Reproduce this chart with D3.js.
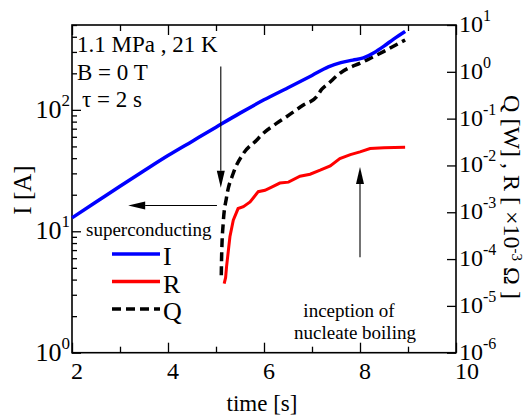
<!DOCTYPE html>
<html>
<head>
<meta charset="utf-8">
<script src="https://cdn.jsdelivr.net/npm/d3@7"></script>
<style>
  body { margin: 0; background: #fff; }
</style>
</head>
<body>
<div id="main-div"></div>
<script>
// data
const timeI = [2.0, 2.5, 3.0, 3.5, 4.0, 4.5, 5.0, 5.5, 6.0, 6.5, 7.0, 7.34, 7.6, 7.85, 8.07, 8.3, 8.5, 8.7, 8.94];
const currentI = [12.9, 17.4, 23.5, 31.5, 42, 55, 72, 94, 121, 152, 192, 226, 245, 257, 268, 297, 335, 383, 443];

const timeR = [5.17, 5.2, 5.22, 5.26, 5.29, 5.36, 5.46, 5.57, 5.71, 5.88, 6.02, 6.17, 6.33, 6.51, 6.75, 6.96, 7.17, 7.38, 7.58, 7.8, 8.0, 8.21, 8.5, 8.94];
const resistR = [3.0e-5, 4.0e-5, 6.9e-5, 1.6e-4, 3.0e-4, 6.8e-4, 1.2e-3, 1.32e-3, 1.66e-3, 2.75e-3, 2.95e-3, 3.5e-3, 4.2e-3, 4.4e-3, 5.9e-3, 6.5e-3, 7.9e-3, 9.8e-3, 1.4e-2, 1.7e-2, 1.95e-2, 2.3e-2, 2.4e-2, 2.45e-2];

const timeQ = [5.11, 5.115, 5.12, 5.15, 5.22, 5.36, 5.57, 5.85, 5.95, 6.26, 6.47, 6.82, 7.1, 7.2, 7.34, 7.58, 8.07, 8.49, 8.94];
const heatQ = [4.5e-5, 9e-5, 1.5e-4, 5.8e-4, 2.1e-3, 6.8e-3, 1.8e-2, 3.5e-2, 4.5e-2, 7.9e-2, 0.11, 0.195, 0.295, 0.42, 0.56, 0.93, 1.64, 2.7, 4.8];

const xTicks = [2, 4, 6, 8, 10];
const xMinor = [3, 5, 7, 9];
const leftTicks = [1, 10, 100];
const leftExp = ["0", "1", "2"];
const rightTicks = [1e-6, 1e-5, 1e-4, 1e-3, 1e-2, 1e-1, 1, 10];
const rightExp = ["-6", "-5", "-4", "-3", "-2", "-1", "0", "1"];

const width = 529, height = 418;
const margin = {left: 72, right: 456, top: 25, bottom: 352.7};
const serif = "'Liberation Serif', 'Times New Roman', Times, 'DejaVu Serif', serif";

const svg = d3.select("#main-div").append("svg")
  .attr("width", width).attr("height", height)
  .attr("font-family", serif)
  .style("font-family", serif);

const x = d3.scaleLinear().domain([2, 10]).range([margin.left, margin.right]);
const yL = d3.scaleLog().domain([1, 500]).range([margin.bottom, margin.top]);
const yR = d3.scaleLog().domain([1e-6, 10]).range([margin.bottom, margin.top]);

// minor log ticks for the left axis
let leftMinor = [];
for (let d = 1; d <= 100; d *= 10) {
  for (let k = 2; k <= 9; k++) {
    if (d * k <= 500) leftMinor.push(d * k);
  }
}

function plainAxis(g) {
  g.select(".domain").remove();
  g.selectAll("line").attr("stroke", "#000").attr("stroke-width", 1.3);
}

// ticks
svg.append("g").attr("transform", `translate(0,${margin.bottom})`)
  .call(d3.axisBottom(x).tickValues(xTicks).tickSize(-10).tickFormat(""))
  .call(plainAxis);
svg.append("g").attr("transform", `translate(0,${margin.bottom})`)
  .call(d3.axisBottom(x).tickValues(xMinor).tickSize(-6).tickFormat(""))
  .call(plainAxis);
svg.append("g").attr("transform", `translate(0,${margin.top})`)
  .call(d3.axisTop(x).tickValues(xTicks).tickSize(-10).tickFormat(""))
  .call(plainAxis);
svg.append("g").attr("transform", `translate(0,${margin.top})`)
  .call(d3.axisTop(x).tickValues(xMinor).tickSize(-6).tickFormat(""))
  .call(plainAxis);
svg.append("g").attr("transform", `translate(${margin.left},0)`)
  .call(d3.axisLeft(yL).tickValues(leftTicks).tickSize(-9).tickFormat(""))
  .call(plainAxis);
svg.append("g").attr("transform", `translate(${margin.left},0)`)
  .call(d3.axisLeft(yL).tickValues(leftMinor).tickSize(-5).tickFormat(""))
  .call(plainAxis);
svg.append("g").attr("transform", `translate(${margin.right},0)`)
  .call(d3.axisRight(yR).tickValues(rightTicks).tickSize(-9).tickFormat(""))
  .call(plainAxis);

// frame
svg.append("rect")
  .attr("x", margin.left).attr("y", margin.top)
  .attr("width", margin.right - margin.left).attr("height", margin.bottom - margin.top)
  .attr("fill", "none").attr("stroke", "#000").attr("stroke-width", 1.6);

// tick labels
svg.append("g").selectAll("text").data(xTicks).join("text")
  .attr("x", d => x(d) - 1).attr("y", 379)
  .attr("font-size", 24)
  .text(d => d);

let lt = svg.append("g").selectAll("text").data(leftTicks).join("text")
  .attr("x", margin.left - 2).attr("y", d => yL(d) + 8)
  .attr("text-anchor", "end").attr("font-size", 26);
lt.append("tspan").text("10");
lt.append("tspan").attr("font-size", 17).attr("dy", -12).text((d, i) => leftExp[i]);

let rt = svg.append("g").selectAll("text").data(rightTicks).join("text")
  .attr("x", margin.right + 3).attr("y", d => yR(d) + 7)
  .attr("font-size", 24);
rt.append("tspan").text("10");
rt.append("tspan").attr("font-size", 16).attr("dy", -11).text((d, i) => rightExp[i]);

// axis titles
svg.append("text")
  .attr("transform", "translate(31,190) rotate(-90)")
  .attr("text-anchor", "middle").attr("font-size", 25)
  .text("I [A]");

let rl = svg.append("text")
  .attr("transform", "translate(504,197) rotate(90)")
  .attr("text-anchor", "middle").attr("font-size", 24);
rl.append("tspan").text("Q [W] , R [ ×10");
rl.append("tspan").attr("font-size", 15).attr("dy", -8).text("-3");
rl.append("tspan").attr("dy", 8).text(" Ω ]");

svg.append("text")
  .attr("x", 262).attr("y", 411)
  .attr("text-anchor", "middle").attr("font-size", 23)
  .text("time [s]");

// curves
const lineI = d3.line().x(d => x(d[0])).y(d => yL(d[1])).curve(d3.curveMonotoneX);
const lineR = d3.line().x(d => x(d[0])).y(d => yR(d[1]));
const lineQ = d3.line().x(d => x(d[0])).y(d => yR(d[1])).curve(d3.curveMonotoneX);

svg.append("path")
  .datum(d3.zip(timeR, resistR))
  .attr("d", lineR)
  .attr("fill", "none").attr("stroke", "#ff0000").attr("stroke-width", 3);

svg.append("path")
  .datum(d3.zip(timeQ, heatQ))
  .attr("d", lineQ)
  .attr("fill", "none").attr("stroke", "#000").attr("stroke-width", 3.5)
  .attr("stroke-dasharray", "9,5");

svg.append("path")
  .datum(d3.zip(timeI, currentI))
  .attr("d", lineI)
  .attr("fill", "none").attr("stroke", "#0000ff").attr("stroke-width", 3.5);

// annotations
svg.append("text").attr("x", 77).attr("y", 52).attr("font-size", 23).text("1.1 MPa , 21 K");
svg.append("text").attr("x", 77).attr("y", 80).attr("font-size", 23).text("B = 0 T");
svg.append("text").attr("x", 82).attr("y", 107).attr("font-size", 23).text("τ  = 2 s");

svg.append("text").attr("x", 86).attr("y", 236).attr("font-size", 19).text("superconducting");
svg.append("text").attr("x", 349).attr("y", 317).attr("text-anchor", "middle").attr("font-size", 19).text("inception of");
svg.append("text").attr("x", 355).attr("y", 339).attr("text-anchor", "middle").attr("font-size", 19).text("nucleate boiling");

function arrow(x1, y1, x2, y2) {
  const ang = Math.atan2(y2 - y1, x2 - x1);
  const len = 17, hw = 4;
  const bx = x2 - len * Math.cos(ang), by = y2 - len * Math.sin(ang);
  svg.append("line")
    .attr("x1", x1).attr("y1", y1).attr("x2", bx).attr("y2", by)
    .attr("stroke", "#000").attr("stroke-width", 1.1);
  svg.append("polygon")
    .attr("points", [
      [x2, y2],
      [bx - hw * Math.sin(ang), by + hw * Math.cos(ang)],
      [bx + hw * Math.sin(ang), by - hw * Math.cos(ang)]
    ].map(p => p.join(",")).join(" "))
    .attr("fill", "#000");
}
arrow(x(5.1), yL(228), x(5.1), yL(22.8));
arrow(x(5.02), yL(16.3), x(3.17), yL(16.3));
arrow(x(8), yR(1.1e-4), x(8), yR(9.3e-3));

// legend
const legend = [["I", "#0000ff", null], ["R", "#ff0000", null], ["Q", "#000", "9,5"]];
const lg = svg.append("g").selectAll("g").data(legend).join("g")
  .attr("transform", (d, i) => `translate(112,${254 + i * 27.5})`);
lg.append("line").attr("x1", 0).attr("x2", 48)
  .attr("stroke", d => d[1]).attr("stroke-width", 3.5)
  .attr("stroke-dasharray", d => d[2]);
lg.append("text").attr("x", 51).attr("y", 11).attr("font-size", 26).text(d => d[0]);
</script>
</body>
</html>
